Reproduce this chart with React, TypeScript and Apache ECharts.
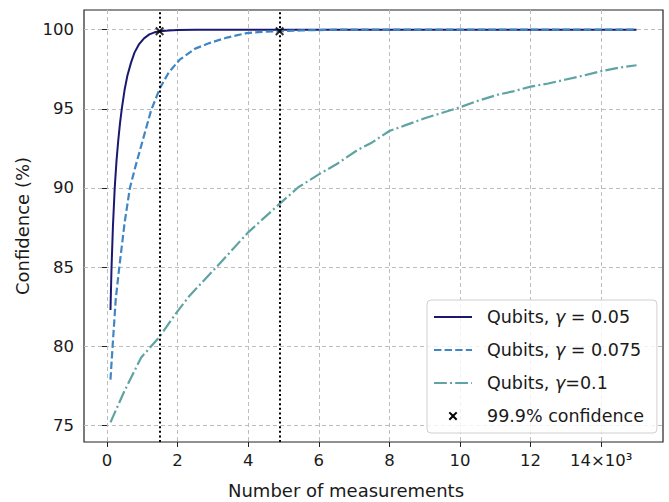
import React, { useEffect, useRef } from "react";
import * as echarts from "echarts";

// ---- Data (x in units of 10^3 measurements, y in % confidence) ----
const gamma005X = [0.1, 0.13, 0.17, 0.22, 0.27, 0.32, 0.37, 0.42, 0.5, 0.58, 0.68, 0.78, 0.9, 1.05, 1.2, 1.35, 1.5, 1.75, 2.0, 2.5, 3, 4, 5, 6, 8, 10, 12, 14, 15];
const gamma005Y = [82.3, 85.0, 87.6, 90.0, 91.7, 93.0, 94.1, 95.0, 96.2, 97.1, 97.9, 98.55, 99.05, 99.45, 99.7, 99.83, 99.9, 99.95, 99.98, 100, 100, 100, 100, 100, 100, 100, 100, 100, 100];

const gamma0075X = [0.1, 0.16, 0.25, 0.35, 0.5, 0.65, 0.8, 0.95, 1.1, 1.25, 1.5, 1.75, 2.06, 2.5, 2.9, 3.4, 3.96, 4.4, 4.9, 5.5, 6.5, 8, 10, 12, 14, 15];
const gamma0075Y = [77.9, 80.0, 83.0, 85.0, 87.8, 90.0, 91.3, 92.5, 93.7, 94.9, 96.3, 97.3, 98.1, 98.8, 99.15, 99.5, 99.78, 99.86, 99.9, 99.95, 100, 100, 100, 100, 100, 100];

const gamma01X = [0.1, 0.5, 0.97, 1.49, 1.96, 2.34, 3.1, 4.0, 4.89, 5.43, 6.0, 6.5, 7.1, 7.5, 8.0, 8.5, 9.0, 9.5, 10.0, 10.5, 11.08, 11.5, 12.0, 12.5, 13.0, 13.5, 14.0, 14.5, 15.0];
const gamma01Y = [75.2, 77.2, 79.3, 80.6, 82.1, 83.2, 85.0, 87.2, 89.0, 90.06, 90.86, 91.5, 92.4, 92.86, 93.6, 94.0, 94.4, 94.75, 95.1, 95.5, 95.9, 96.1, 96.4, 96.6, 96.85, 97.1, 97.38, 97.6, 97.75];

const markerX = [1.49, 4.89];
const markerY = [99.9, 99.9];

const xTicks = [0, 2, 4, 6, 8, 10, 12, 14];
const yTicks = [75, 80, 85, 90, 95, 100];

const seriesNames = ["Qubits, γ = 0.05", "Qubits, γ = 0.075", "Qubits, γ=0.1", "99.9% confidence"];
const seriesColors = ["#191970", "#3f86c4", "#5fa3a3"];

const zip = (xs: number[], ys: number[]) => xs.map((x, i) => [x, ys[i]]);

const X_PATH = "path://M0,1.6L1.6,0L5,3.4L8.4,0L10,1.6L6.6,5L10,8.4L8.4,10L5,6.6L1.6,10L0,8.4L3.4,5Z";
const X_PATH_PADDED = "path://M-3,-3L-2.99,-3L-3,-2.99ZM13,13L12.99,13L13,12.99ZM0,1.6L1.6,0L5,3.4L8.4,0L10,1.6L6.6,5L10,8.4L8.4,10L5,6.6L1.6,10L0,8.4L3.4,5Z";

const FONT = "DejaVu Sans";

export default function App() {
  const ref = useRef<HTMLDivElement>(null);

  useEffect(() => {
    document.body.style.margin = "0";
    if (!ref.current) return;
    const chart = echarts.init(ref.current, undefined, { renderer: "svg" });

    const legendFormatter = (name: string) => {
      const idx = name.indexOf("γ");
      if (idx < 0) return `{a|${name}}`;
      return `{a|${name.slice(0, idx)}}{g|γ}{a|${name.slice(idx + 1)}}`;
    };

    const option: any = {
      animation: false,
      backgroundColor: "#ffffff",
      grid: {
        left: 84,
        top: 10,
        width: 579,
        height: 432,
        show: true,
        borderColor: "#222222",
        borderWidth: 1.2,
        backgroundColor: "transparent",
        containLabel: false,
      },
      xAxis: {
        type: "value",
        min: -0.65,
        max: 15.75,
        splitNumber: 8,
        axisLine: { show: false },
        axisTick: {
          show: true,
          inside: false,
          length: 5,
          customValues: xTicks,
          lineStyle: { color: "#222222", width: 1 },
        },
        axisLabel: {
          customValues: xTicks,
          margin: 10,
          fontSize: 16.5,
          fontFamily: FONT,
          color: "#1a1a1a",
          formatter: (v: number) => (v === 14 ? "14×10³" : String(v)),
        },
        splitLine: {
          show: true,
          lineStyle: { color: "#bdbdbd", width: 1, type: [4, 3] },
        },
      },
      yAxis: {
        type: "value",
        min: 73.96,
        max: 101.24,
        splitNumber: 6,
        axisLine: { show: false },
        axisTick: {
          show: true,
          inside: false,
          length: 5,
          customValues: yTicks,
          lineStyle: { color: "#222222", width: 1 },
        },
        axisLabel: {
          customValues: yTicks,
          margin: 10,
          fontSize: 16.5,
          fontFamily: FONT,
          color: "#1a1a1a",
        },
        splitLine: {
          show: true,
          lineStyle: { color: "#bdbdbd", width: 1, type: [4, 3] },
        },
      },
      legend: {
        orient: "vertical",
        left: 427,
        top: 300,
        padding: [8, 13, 8, 6],
        itemGap: 15,
        itemWidth: 38,
        itemHeight: 14,
        backgroundColor: "rgba(255,255,255,0.8)",
        borderColor: "#cfcfcf",
        borderWidth: 1,
        borderRadius: 4,
        data: [
          { name: seriesNames[0], itemStyle: { opacity: 0 } },
          { name: seriesNames[1], itemStyle: { opacity: 0 } },
          { name: seriesNames[2], itemStyle: { opacity: 0 } },
          { name: seriesNames[3], icon: X_PATH_PADDED, itemStyle: { color: "#000000", opacity: 1 } },
        ],
        formatter: legendFormatter,
        textStyle: {
          fontFamily: FONT,
          fontSize: 17.5,
          color: "#1a1a1a",
          lineHeight: 18,
          padding: [0, 0, 0, 10],
          rich: {
            a: { fontFamily: FONT, fontSize: 17.5, color: "#1a1a1a", lineHeight: 18 },
            g: { fontFamily: FONT, fontSize: 17.5, color: "#1a1a1a", lineHeight: 18, fontStyle: "italic" },
          },
        },
      },
      graphic: [
        {
          type: "text",
          x: 346,
          y: 490,
          style: {
            text: "Number of measurements",
            fontFamily: FONT,
            fontSize: 18,
            fill: "#1a1a1a",
            align: "center",
            verticalAlign: "middle",
          },
        },
        {
          type: "text",
          x: 22,
          y: 226,
          rotation: Math.PI / 2,
          style: {
            text: "Confidence (%)",
            fontFamily: FONT,
            fontSize: 18,
            fill: "#1a1a1a",
            align: "center",
            verticalAlign: "middle",
          },
        },
      ],
      series: [
        {
          name: seriesNames[0],
          type: "line",
          data: zip(gamma005X, gamma005Y),
          showSymbol: false,
          symbol: "none",
          lineStyle: { color: seriesColors[0], width: 2 },
          itemStyle: { color: seriesColors[0] },
          z: 3,
        },
        {
          name: seriesNames[1],
          type: "line",
          data: zip(gamma0075X, gamma0075Y),
          showSymbol: false,
          symbol: "none",
          lineStyle: { color: seriesColors[1], width: 2.2, type: [7.4, 3.2] },
          itemStyle: { color: seriesColors[1] },
          z: 4,
        },
        {
          name: seriesNames[2],
          type: "line",
          data: zip(gamma01X, gamma01Y),
          showSymbol: false,
          symbol: "none",
          lineStyle: { color: seriesColors[2], width: 2.2, type: [12.8, 3.2, 2, 3.2] },
          itemStyle: { color: seriesColors[2] },
          z: 3,
        },
        {
          name: seriesNames[3],
          type: "scatter",
          data: zip(markerX, markerY),
          symbol: X_PATH,
          symbolSize: 9,
          itemStyle: { color: "#000000" },
          z: 6,
          markLine: {
            silent: true,
            symbol: ["none", "none"],
            label: { show: false },
            lineStyle: { color: "#000000", width: 2, type: [2, 2.6] },
            emphasis: { disabled: true },
            data: markerX.map((x) => ({ xAxis: x })),
          },
        },
      ],
    };

    chart.setOption(option);
    return () => {
      chart.dispose();
    };
  }, []);

  return <div ref={ref} style={{ width: 669, height: 502 }} />;
}
